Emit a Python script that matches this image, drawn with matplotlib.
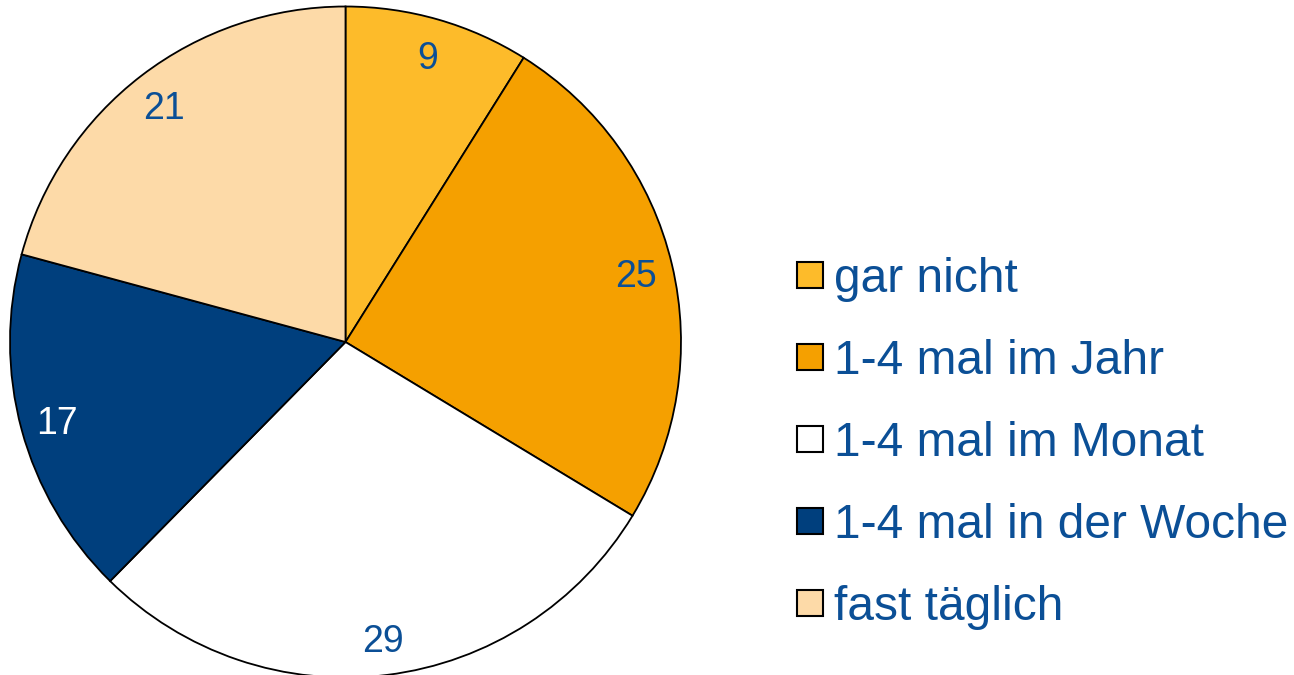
import matplotlib
matplotlib.use("Agg")
import matplotlib.pyplot as plt
from matplotlib.patches import Rectangle

plt.rcParams['font.family'] = ['Liberation Sans', 'DejaVu Sans']

categories = ["gar nicht", "1-4 mal im Jahr", "1-4 mal im Monat", "1-4 mal in der Woche", "fast täglich"]
values = [9, 25, 29, 17, 21]
colors = ["#FDBB2A", "#F5A000", "#FFFFFF", "#003F7D", "#FDDAA8"]
label_colors = ["#0B4F96", "#0B4F96", "#0B4F96", "#FFFFFF", "#0B4F96"]
text_color = "#0B4F96"

W, H = 1294, 675
fig = plt.figure(figsize=(W / 100, H / 100), dpi=100)

cx, cy, r = 345.5, 342, 335.5
ax = fig.add_axes([(cx - r) / W, (H - cy - r) / H, 2 * r / W, 2 * r / H])
wedges, texts, autotexts = ax.pie(
    values, colors=colors, startangle=90, counterclock=False,
    autopct=lambda p: "", pctdistance=0.89, radius=1,
    wedgeprops=dict(edgecolor="black", linewidth=1.3, clip_on=False),
)
for t, v, c in zip(autotexts, values, label_colors):
    t.set_text(str(v))
    t.set_color(c)
    t.set_fontsize(27)
    t.set_va("center_baseline")
ax.set_xlim(-1, 1)
ax.set_ylim(-1, 1)
ax.set_aspect("equal")
ax.axis("off")

# legend
box_x, box_w = 797, 26
text_x = 834
row0, step = 275, 82
for i, (cat, col) in enumerate(zip(categories, colors)):
    yc = row0 + i * step
    fig.add_artist(Rectangle(((box_x) / W, (H - yc - box_w / 2) / H), box_w / W, box_w / H,
                             transform=fig.transFigure, facecolor=col, edgecolor="black",
                             linewidth=1.5))
    fig.text(text_x / W, (H - yc) / H, cat, fontsize=34.5, color=text_color,
             ha="left", va="center_baseline")

fig.savefig("out.png", dpi=100)
